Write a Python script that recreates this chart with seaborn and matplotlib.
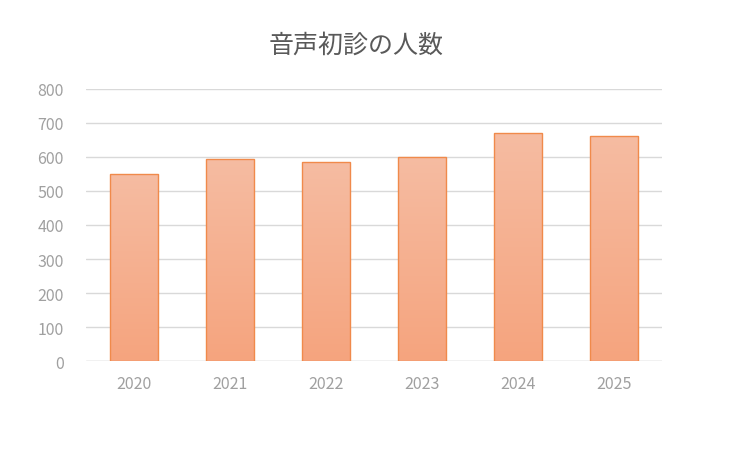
import numpy as np
import pandas as pd
import seaborn as sns
from matplotlib import pyplot as plt
from matplotlib.colors import LinearSegmentedColormap

years = ["2020", "2021", "2022", "2023", "2024", "2025"]
patients = [550, 595, 585, 600, 670, 662]
title = "音声初診の人数"

sns.set_theme(style="white")
plt.rcParams['font.family'] = ['Noto Sans CJK JP', 'DejaVu Sans']

df = pd.DataFrame({"year": years, "count": patients})

fig = plt.figure(figsize=(7.52, 4.52), dpi=100)
ax = fig.add_axes([0.114, 0.199, 0.766, 0.602])

sns.barplot(data=df, x="year", y="count", ax=ax, width=0.5,
            color="#F5AA86", edgecolor="#F08A4B", linewidth=1.0, zorder=3)

# vertical gradient, lighter at the top
cmap = LinearSegmentedColormap.from_list("grad", ["#F5A47E", "#F6BCA2"])
grad = np.linspace(0, 1, 256).reshape(-1, 1)
for bar in ax.patches:
    x0, y0 = bar.get_x(), bar.get_y()
    w, h = bar.get_width(), bar.get_height()
    bar.set_facecolor("none")
    im = ax.imshow(grad, extent=[x0, x0 + w, y0, y0 + h], origin="lower",
                   cmap=cmap, aspect="auto", zorder=2)
    im.set_clip_path(bar)

ax.set_xlim(-0.5, 5.5)
ax.set_ylim(0, 800)
ax.set_yticks(range(0, 801, 100))
ax.grid(axis="y", color="#D9D9D9", linewidth=1.0, zorder=0)
ax.set_axisbelow(True)
for s in ax.spines.values():
    s.set_visible(False)
ax.axhline(0, color="#D9D9D9", linewidth=1.0, zorder=1)
ax.set_xlabel("")
ax.set_ylabel("")
ax.tick_params(axis="both", length=0, labelsize=11.5, labelcolor="#A0A0A0")
ax.tick_params(axis="x", pad=10)
ax.tick_params(axis="y", pad=16)

fig.text(0.473, 0.90, title, ha="center", va="center", fontsize=18, color="#595959")

fig.savefig("out.png", dpi=100)
